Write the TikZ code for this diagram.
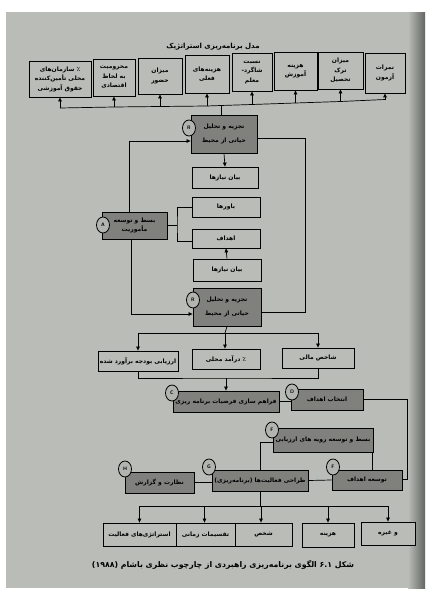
\documentclass[tikz,border=0pt]{standalone}
\usepackage{fontspec}
\usetikzlibrary{arrows.meta,shapes.geometric,calc}
\TeXXeTstate=1
\newfontfamily\arfont[Script=Arabic]{DejaVu Sans}
\newcommand\rl[1]{\hbox{\beginR #1\endR}}
\definecolor{paper}{RGB}{186,188,183}
\definecolor{boxdark}{RGB}{128,129,125}
\definecolor{edgedark}{RGB}{100,102,100}
\definecolor{circfill}{RGB}{178,180,175}
\newcommand\bx[7]{\node[#6, minimum width={#4-#2}, minimum height={#5-#3}] (#1) at ({(#2+#4)/2},{(#3+#5)/2}) {#7};}
\begin{document}
\begin{tikzpicture}[x=1pt,y=-1pt,
  wbox/.style={draw, fill=paper, line width=0.8pt, inner sep=1pt, align=center,
    font=\arfont\bfseries\fontsize{6}{9.5}\selectfont},
  dbox/.style={wbox, fill=boxdark},
  rbox/.style={dbox, font=\arfont\bfseries\fontsize{6}{14}\selectfont},
  circ/.style={ellipse, draw, fill=circfill, line width=0.8pt, minimum width=13, minimum height=16, inner sep=0pt,
    font=\sffamily\bfseries\fontsize{5}{6}\selectfont},
  conn/.style={line width=0.7pt},
  arr/.style={conn, -{Triangle[length=4pt,width=3.5pt]}}]
\useasboundingbox (0,0) rectangle (437,597);
\fill[white] (0,0) rectangle (437,597);
\fill[paper] (6,12) rectangle (425,588);
\shade[left color=paper, right color=edgedark] (408,12) rectangle (425,588);

% title
\node[font=\arfont\bfseries\fontsize{7}{8}\selectfont] (title) at (213,47) {\rl{مدل برنامه‌ریزی استراتژیک}};

% top row
\bx{T1}{29}{61}{91}{97}{wbox}{\rl{٪ سازمان‌های}\\\rl{محلی تأمین‌کننده}\\\rl{حقوق آموزشی}}
\bx{T2}{93}{59}{135}{96}{wbox}{\rl{محرومیت}\\\rl{به لحاظ}\\\rl{اقتصادی}}
\bx{T3}{138}{58}{182}{94}{wbox}{\rl{میزان}\\\rl{حضور}}
\bx{T4}{185}{55}{229}{93}{wbox}{\rl{هزینه‌های}\\\rl{فعلی}}
\bx{T5}{232}{53}{272}{91}{wbox}{\rl{نسبت}\\\rl{شاگرد-}\\\rl{معلم}}
\bx{T6}{274}{52}{317}{90}{wbox}{\rl{هزینه}\\\rl{آموزش}}
\bx{T7}{318}{52}{363}{89}{wbox}{\rl{میزان}\\\rl{ترک}\\\rl{تحصیل}}
\bx{T8}{365}{53}{405}{93}{wbox}{\rl{نمرات}\\\rl{آزمون}}

% middle
\bx{R1}{191}{115}{257}{153}{rbox}{\rl{تجزیه و تحلیل}\\\rl{حیاتی از محیط}}
\bx{N1}{192}{167}{258}{188}{wbox}{\rl{بیان نیازها}}
\bx{B}{192}{197}{260}{217}{wbox}{\rl{باورها}}
\bx{A}{102}{212}{167}{239}{dbox}{\rl{بسط و توسعه}\\\rl{مأموریت}}
\bx{O}{192}{229}{260}{248}{wbox}{\rl{اهداف}}
\bx{N2}{193}{259}{261}{281}{wbox}{\rl{بیان نیازها}}
\bx{R2}{193}{288}{261}{326}{rbox}{\rl{تجزیه و تحلیل}\\\rl{حیاتی از محیط}}
\bx{E1}{98}{351}{178}{371}{wbox}{\rl{ارزیابی بودجه برآورد شده}}
\bx{E2}{192}{349}{260}{369}{wbox}{\rl{٪ درآمد محلی}}
\bx{E3}{282}{348}{354}{368}{wbox}{\rl{شاخص مالی}}
\bx{C}{173}{391}{279}{412}{dbox}{\rl{فراهم سازی فرضیات برنامه ریزی}}
\bx{D}{291}{389}{363}{410}{dbox}{\rl{انتخاب اهداف}}
\bx{F}{273}{428}{373}{452}{dbox}{\rl{بسط و توسعه رویه های ارزیابی}}
\bx{F2}{332}{470}{402}{490}{dbox}{\rl{توسعه اهداف}}
\bx{G}{212}{470}{308}{491}{dbox}{\rl{طراحی فعالیت‌ها (برنامه‌ریزی)}}
\bx{H}{125}{472}{194}{493}{dbox}{\rl{نظارت و گزارش}}

% bottom row
\bx{B1}{103}{523}{176}{546}{wbox}{\rl{استراتژی‌های فعالیت}}
\bx{B2}{176}{523}{235}{546}{wbox}{\rl{تقسیمات زمانی}}
\bx{B3}{235}{523}{292}{546}{wbox}{\rl{شخص}}
\bx{B4}{302}{523}{354}{547}{wbox}{\rl{هزینه}}
\bx{B5}{361}{522}{415}{545}{wbox}{\rl{و غیره}}

% caption
\node[font=\arfont\bfseries\fontsize{7.8}{9}\selectfont] (cap) at (223,565) {\rl{شکل \beginL ۶.۱\endL{} الگوی برنامه‌ریزی راهبردی از چارچوب نظری باشام \beginL(۱۹۸۸)\endL}};

% top bus
\coordinate (t1) at (60,108);
\coordinate (t2) at (114,107);
\coordinate (t3) at (160,106.5);
\coordinate (t4) at (207,106);
\coordinate (tm) at (221,105.5);
\coordinate (t5) at (252,104.5);
\coordinate (t6) at (295.5,103);
\coordinate (t7) at (340.5,101.5);
\coordinate (t8) at (385,99.5);
\draw[conn] (t1) -- (t2) -- (t3) -- (t4) -- (tm) -- (t5) -- (t6) -- (t7) -- (t8);
\foreach \i in {1,...,8} {\draw[arr] (t\i) -- (T\i.south);}
\draw[conn] (tm) -- (tm |- R1.north);

% R1 and loops
\draw[arr] (R1.south) -- (N1.north);
\draw[arr] ([xshift=28pt]A.north west) |- ([yshift=-7pt]R1.west);
\coordinate (rr) at (305,312);
\draw[conn] ([yshift=-4pt]R1.east) -| (rr) -- (rr -| R2.east);
\draw[arr] ([xshift=30pt]A.south west) |- ([yshift=-7pt]R2.west);
\coordinate (br) at (177,225);
\draw[conn] (A.east) -- (br |- A.east);
\draw[conn] (B.west) -| (br) |- ([yshift=-2.5pt]O.west);
\draw[arr] (N2.north) -- (O.south);

% R2 to evaluation boxes
\coordinate (j1) at (225,333);
\draw[conn] (R2.south) -- (j1);
\draw[arr] (j1) -| (E1.north);
\draw[arr] (j1) -| (E3.north);
\draw[arr] (j1) -- (j1 |- E2.north);
\coordinate (j2) at (226,378);
\draw[conn] (E1.south) |- (j2) -| (E3.south);
\draw[arr] (j2) -- (j2 |- C.north);

% lower links
\draw[conn] (C.east) -- (C.east -| D.west);
\coordinate (dr) at (407,479);
\draw[conn] (D.east) -| (dr) -- (dr -| F2.east);
\draw[conn] ([yshift=-2pt]F.west) -| (G.north);
\draw[conn] ([xshift=-1pt]F.south east) -- ([xshift=-1pt]F.south east |- F2.north);
\draw[conn] (G.east) -- (F2.west);
\draw[conn] (H.east) -- (H.east -| G.west);

% G to bottom row
\coordinate (j3) at (261,506);
\draw[conn] (G.south) -- (G.south |- j3) -- (j3);
\draw[conn] (B1.north |- j3) -- (B5.north |- j3);
\draw[arr] (j3) -- (j3 |- B3.north);
\draw[arr] (B1.north |- j3) -- (B1.north);
\draw[arr] ([xshift=-1pt]B2.north |- j3) -- ([xshift=-1pt]B2.north);
\draw[arr] (B4.north |- j3) -- (B4.north);
\draw[arr] (B5.north |- j3) -- (B5.north);

% circles
\node[circ] (cR1) at (189,128) {R};
\node[circ] (cR2) at (193,300) {R};
\node[circ] (cA) at (103,225) {A};
\node[circ] (cC) at (172,393) {C};
\node[circ] (cD) at (292,392) {D};
\node[circ] (cF) at (272,430) {F};
\node[circ] (cF2) at (333,467) {F};
\node[circ] (cG) at (209,467) {G};
\node[circ] (cH) at (125,469) {H};
\end{tikzpicture}
\end{document}
